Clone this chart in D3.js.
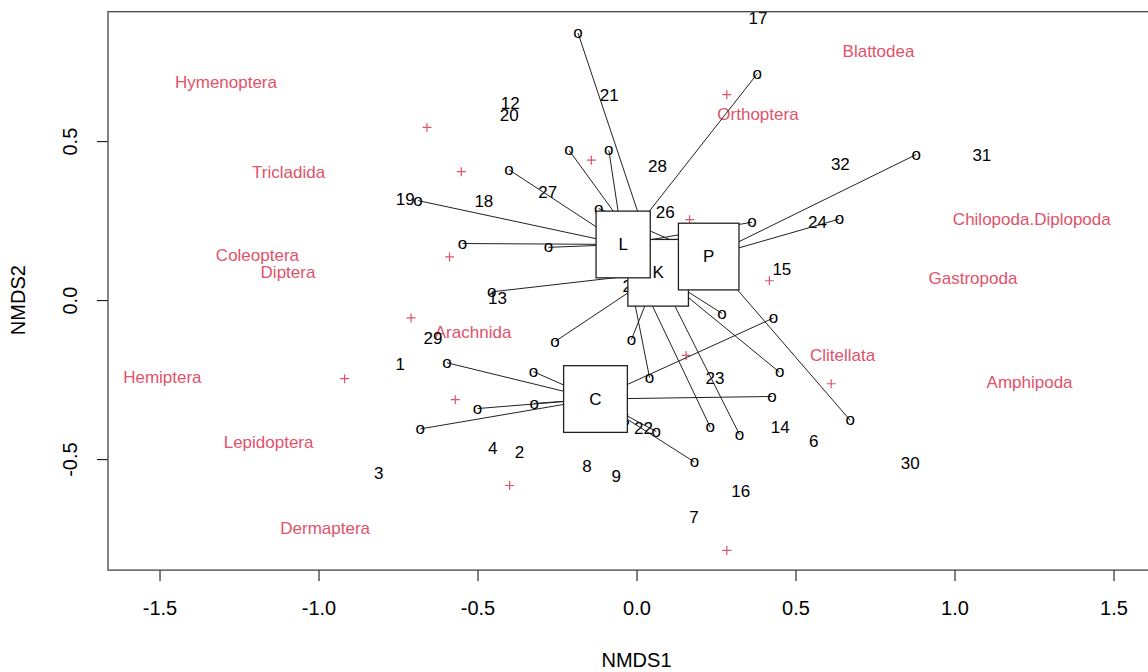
<!DOCTYPE html>
<html>
<head>
	<meta charset="utf-8">
	<title>NMDS ordination</title>
	<script src="https://d3js.org/d3.v7.min.js"></script>
	<style>
		body { margin: 0; background: white; }
		svg { display: block; font-family: 'Liberation Sans', Arial, sans-serif; }
	</style>
</head>
<body>
	<svg id="chart" width="1148" height="672"></svg>
	<script type="text/javascript">

		// axis ranges and ticks
		var xlim = [-1.662, 1.70], ylim = [-0.849, 0.907];
		var xTicks = [-1.5, -1.0, -0.5, 0.0, 0.5, 1.0, 1.5];
		var yTicks = [-0.5, 0.0, 0.5];

		// group centroids (ordispider labels)
		var groupNames = ['K', 'L', 'P', 'C'];
		var groupX = [0.068, -0.042, 0.227, -0.129];
		var groupY = [0.086, 0.175, 0.137, -0.311];

		// site points joined to their group centroid
		var spiderGroup = ['K', 'K', 'K', 'K', 'K', 'K', 'K', 'K',
			'L', 'L', 'L', 'L', 'L', 'L', 'L', 'L', 'L',
			'P', 'P', 'P', 'P',
			'C', 'C', 'C', 'C', 'C', 'C', 'C', 'C', 'C'];
		var spiderX = [-0.184, -0.212, -0.455, -0.256, -0.016, 0.269, 0.450, 0.324,
			-0.087, 0.380, -0.401, -0.687, -0.547, -0.277, 0.363, 0.041, 0.232,
			-0.119, 0.638, 0.880, 0.672,
			-0.596, -0.324, -0.500, -0.322, -0.680, 0.426, 0.431, 0.182, 0.062];
		var spiderY = [0.840, 0.471, 0.026, -0.130, -0.124, -0.042, -0.227, -0.423,
			0.471, 0.712, 0.410, 0.313, 0.178, 0.166, 0.245, -0.244, -0.400,
			0.288, 0.255, 0.458, -0.378,
			-0.197, -0.225, -0.341, -0.325, -0.405, -0.303, -0.056, -0.509, -0.413];

		// site labels
		var siteLabels = d3.range(1, 33).map(String);
		var siteX = [-0.743, -0.368, -0.811, -0.452, -0.036, 0.557, 0.181, -0.156, -0.064, -0.177,
			0.090, -0.397, -0.437, 0.452, 0.457, 0.328, 0.382, -0.480, -0.727, -0.400,
			-0.086, 0.022, 0.247, 0.569, -0.014, 0.090, -0.279, 0.066, -0.640, 0.861,
			1.086, 0.641];
		var siteY = [-0.201, -0.480, -0.546, -0.467, -0.379, -0.444, -0.682, -0.523, -0.554, -0.225,
			0.000, 0.618, 0.005, -0.402, 0.096, -0.601, 0.887, 0.310, 0.316, 0.580,
			0.643, -0.404, -0.247, 0.243, 0.042, 0.274, 0.339, 0.421, -0.122, -0.515,
			0.455, 0.428];

		// species labels
		var speciesNames = ['Hymenoptera', 'Tricladida', 'Coleoptera', 'Diptera', 'Hemiptera',
			'Lepidoptera', 'Dermaptera', 'Arachnida', 'Orthoptera', 'Blattodea',
			'Chilopoda.Diplopoda', 'Gastropoda', 'Clitellata', 'Amphipoda'];
		var speciesX = [-1.291, -1.094, -1.192, -1.096, -1.491, -1.157, -0.979, -0.514, 0.382, 0.761,
			1.243, 1.058, 0.648, 1.236];
		var speciesY = [0.685, 0.402, 0.140, 0.086, -0.243, -0.449, -0.719, -0.101, 0.583, 0.782,
			0.255, 0.067, -0.175, -0.260];

		// species points
		var plusX = [-0.659, -0.551, -0.142, 0.284, 0.167, -0.588, 0.418, -0.709, 0.156, -0.570,
			-0.918, -0.399, 0.284, 0.612];
		var plusY = [0.543, 0.404, 0.440, 0.646, 0.253, 0.136, 0.061, -0.056, -0.174, -0.313,
			-0.247, -0.583, -0.787, -0.263];

		var red = '#DF536B';
		var plotLeft = 108, plotTop = 11.7, unit = 318;

		var x = d3.scaleLinear().domain(xlim).range([plotLeft, plotLeft + unit * (xlim[1] - xlim[0])]);
		var y = d3.scaleLinear().domain(ylim).range([plotTop + unit * (ylim[1] - ylim[0]), plotTop]);

		var svg = d3.select('#chart');
		var fmt = d => d3.format('.1f')(d).replace('−', '-');

		// axes
		svg.append('g')
			.attr('transform', 'translate(0,' + y(ylim[0]) + ')')
			.call(d3.axisBottom(x).tickValues(xTicks).tickFormat(fmt).tickSize(11).tickPadding(20))
			.call(g => g.select('.domain').remove())
			.call(g => g.selectAll('text').attr('font-size', 20).attr('fill', '#000').attr('font-family', 'Liberation Sans'));

		svg.append('g')
			.attr('transform', 'translate(' + plotLeft + ',0)')
			.call(d3.axisLeft(y).tickValues(yTicks).tickFormat(fmt).tickSize(11))
			.call(g => g.select('.domain').remove())
			.call(g => g.selectAll('text')
				.attr('font-size', 20).attr('fill', '#000').attr('font-family', 'Liberation Sans')
				.attr('text-anchor', 'middle').attr('dy', null).attr('x', null)
				.attr('transform', 'translate(-38,0) rotate(-90)')
				.attr('dominant-baseline', 'central'));

		svg.append('text')
			.attr('x', x(0)).attr('y', 660)
			.attr('text-anchor', 'middle').attr('dominant-baseline', 'central')
			.attr('font-size', 20)
			.text('NMDS1');

		svg.append('text')
			.attr('transform', 'translate(18,' + y(0) + ') rotate(-90)')
			.attr('text-anchor', 'middle').attr('dominant-baseline', 'central')
			.attr('font-size', 20)
			.text('NMDS2');

		var plot = svg.append('g');

		// species names and points
		plot.selectAll('.sp')
			.data(speciesNames)
			.enter().append('text')
			.attr('x', (d, i) => x(speciesX[i]))
			.attr('y', (d, i) => y(speciesY[i]))
			.attr('text-anchor', 'middle').attr('dominant-baseline', 'central')
			.attr('font-size', 17).attr('fill', red)
			.text(d => d);

		plot.selectAll('.plus')
			.data(plusX)
			.enter().append('path')
			.attr('d', (d, i) => {
				var px = x(d), py = y(plusY[i]);
				return 'M' + (px - 4.5) + ',' + py + 'H' + (px + 4.5) + 'M' + px + ',' + (py - 4.5) + 'V' + (py + 4.5);
			})
			.attr('stroke', red).attr('stroke-width', 1.2);

		// site labels
		plot.selectAll('.site')
			.data(siteLabels)
			.enter().append('text')
			.attr('x', (d, i) => x(siteX[i]))
			.attr('y', (d, i) => y(siteY[i]))
			.attr('text-anchor', 'middle').attr('dominant-baseline', 'central')
			.attr('font-size', 17).attr('fill', '#000')
			.text(d => d);

		// spider lines
		plot.selectAll('.spider')
			.data(spiderX)
			.enter().append('line')
			.attr('x1', (d, i) => x(d))
			.attr('y1', (d, i) => y(spiderY[i]))
			.attr('x2', (d, i) => x(groupX[groupNames.indexOf(spiderGroup[i])]))
			.attr('y2', (d, i) => y(groupY[groupNames.indexOf(spiderGroup[i])]))
			.attr('stroke', '#222').attr('stroke-width', 1);

		plot.selectAll('.pt')
			.data(spiderX)
			.enter().append('text')
			.attr('x', d => x(d))
			.attr('y', (d, i) => y(spiderY[i]))
			.attr('text-anchor', 'middle').attr('dy', '0.3em')
			.attr('font-size', 17).attr('fill', '#000')
			.text('o');

		// centroid labels, drawn outward from the origin
		var order = d3.range(groupNames.length)
			.sort((a, b) => Math.hypot(groupX[a], groupY[a]) - Math.hypot(groupX[b], groupY[b]));

		order.forEach(i => {
			var g = plot.append('g');
			var rect = g.append('rect');
			var t = g.append('text')
				.attr('x', x(groupX[i])).attr('y', y(groupY[i]))
				.attr('text-anchor', 'middle').attr('dominant-baseline', 'central')
				.attr('font-size', 17)
				.text(groupNames[i]);
			var w = t.node().getComputedTextLength() * 3.4 + 22, h = 66.7;
			rect.attr('x', x(groupX[i]) - w / 2).attr('y', y(groupY[i]) - h / 2)
				.attr('width', w).attr('height', h)
				.attr('fill', 'white').attr('stroke', '#222').attr('stroke-width', 1.3);
		});

		// plot frame
		svg.append('rect')
			.attr('x', plotLeft).attr('y', plotTop)
			.attr('width', x(xlim[1]) - plotLeft).attr('height', y(ylim[0]) - plotTop)
			.attr('fill', 'none').attr('stroke', '#444').attr('stroke-width', 1.3);

	</script>
</body>
</html>
